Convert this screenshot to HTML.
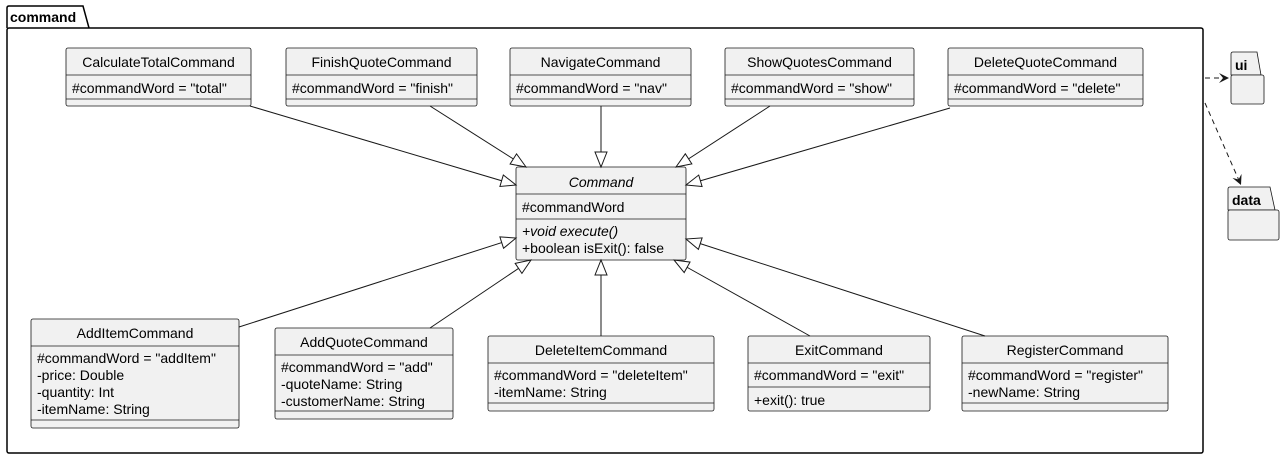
<!DOCTYPE html>
<html><head><meta charset="utf-8"><style>
html,body{margin:0;padding:0;background:#fff;}
svg{display:block;}
text{font-family:"Liberation Sans",sans-serif;font-size:14px;fill:#000;}
.b{fill:#f1f1f1;stroke:#181818;stroke-width:0.8;}
.l{stroke:#181818;stroke-width:0.8;}
.e{stroke:#181818;stroke-width:1;fill:none;}
</style></head><body>
<svg width="1285" height="458" viewBox="0 0 1285 458">
<defs>
<marker id="tri" markerUnits="userSpaceOnUse" markerWidth="20" markerHeight="20" refX="16" refY="7" orient="auto">
<path d="M1,1 L16,7 L1,13 Z" fill="#fff" stroke="#181818" stroke-width="1"/>
</marker>
<marker id="arr" markerUnits="userSpaceOnUse" markerWidth="14" markerHeight="14" refX="10" refY="5" orient="auto">
<path d="M0,0 L10,5 L0,10 L4,5 Z" fill="#181818"/>
</marker>
</defs>
<!-- package command -->
<path d="M7,28 L7,8 Q7,6 9,6 L83,6 L89,28" fill="none" stroke="#000" stroke-width="1.5"/>
<rect x="7" y="28" width="1196" height="425" rx="2" fill="none" stroke="#000" stroke-width="1.5"/>
<text x="10" y="22" style="font-weight:bold">command</text>

<!-- top classes -->
<g>
<rect class="b" x="66" y="48" width="185" height="58" rx="2"/><line class="l" x1="66" y1="75" x2="251" y2="75"/><line class="l" x1="66" y1="99" x2="251" y2="99"/>
<text x="158.5" y="67" text-anchor="middle">CalculateTotalCommand</text><text x="72" y="93">#commandWord = "total"</text>
<rect class="b" x="286" y="48" width="191" height="58" rx="2"/><line class="l" x1="286" y1="75" x2="477" y2="75"/><line class="l" x1="286" y1="99" x2="477" y2="99"/>
<text x="381.5" y="67" text-anchor="middle">FinishQuoteCommand</text><text x="292" y="93">#commandWord = "finish"</text>
<rect class="b" x="510" y="48" width="181" height="58" rx="2"/><line class="l" x1="510" y1="75" x2="691" y2="75"/><line class="l" x1="510" y1="99" x2="691" y2="99"/>
<text x="600.5" y="67" text-anchor="middle">NavigateCommand</text><text x="516" y="93">#commandWord = "nav"</text>
<rect class="b" x="725" y="48" width="189" height="58" rx="2"/><line class="l" x1="725" y1="75" x2="914" y2="75"/><line class="l" x1="725" y1="99" x2="914" y2="99"/>
<text x="819.5" y="67" text-anchor="middle">ShowQuotesCommand</text><text x="731" y="93">#commandWord = "show"</text>
<rect class="b" x="948" y="48" width="195" height="58" rx="2"/><line class="l" x1="948" y1="75" x2="1143" y2="75"/><line class="l" x1="948" y1="99" x2="1143" y2="99"/>
<text x="1045.5" y="67" text-anchor="middle">DeleteQuoteCommand</text><text x="954" y="93">#commandWord = "delete"</text>
</g>

<!-- Command -->
<rect class="b" x="516" y="167" width="170" height="93" rx="2"/><line class="l" x1="516" y1="194" x2="686" y2="194"/><line class="l" x1="516" y1="219" x2="686" y2="219"/>
<text x="601" y="187" text-anchor="middle" font-style="italic">Command</text>
<text x="522" y="212">#commandWord</text>
<text x="522" y="236" font-style="italic">+void execute()</text>
<text x="522" y="253">+boolean isExit(): false</text>

<!-- bottom classes -->
<rect class="b" x="31" y="319" width="208" height="109" rx="2"/><line class="l" x1="31" y1="346" x2="239" y2="346"/><line class="l" x1="31" y1="420" x2="239" y2="420"/>
<text x="135" y="338" text-anchor="middle">AddItemCommand</text>
<text x="37" y="363">#commandWord = "addItem"</text><text x="37" y="380">-price: Double</text><text x="37" y="397">-quantity: Int</text><text x="37" y="414">-itemName: String</text>

<rect class="b" x="275" y="328" width="178" height="91" rx="2"/><line class="l" x1="275" y1="355" x2="453" y2="355"/><line class="l" x1="275" y1="411" x2="453" y2="411"/>
<text x="364" y="347" text-anchor="middle">AddQuoteCommand</text>
<text x="281" y="372">#commandWord = "add"</text><text x="281" y="389">-quoteName: String</text><text x="281" y="406">-customerName: String</text>

<rect class="b" x="488" y="336" width="226" height="75" rx="2"/><line class="l" x1="488" y1="363" x2="714" y2="363"/><line class="l" x1="488" y1="403" x2="714" y2="403"/>
<text x="601" y="355" text-anchor="middle">DeleteItemCommand</text>
<text x="494" y="380">#commandWord = "deleteItem"</text><text x="494" y="397">-itemName: String</text>

<rect class="b" x="748" y="336" width="182" height="75" rx="2"/><line class="l" x1="748" y1="363" x2="930" y2="363"/><line class="l" x1="748" y1="387" x2="930" y2="387"/>
<text x="839" y="355" text-anchor="middle">ExitCommand</text>
<text x="754" y="380">#commandWord = "exit"</text><text x="754" y="405">+exit(): true</text>

<rect class="b" x="962" y="336" width="206" height="75" rx="2"/><line class="l" x1="962" y1="363" x2="1168" y2="363"/><line class="l" x1="962" y1="403" x2="1168" y2="403"/>
<text x="1065" y="355" text-anchor="middle">RegisterCommand</text>
<text x="968" y="380">#commandWord = "register"</text><text x="968" y="397">-newName: String</text>

<!-- inheritance edges -->
<line class="e" x1="250" y1="106" x2="516" y2="185" marker-end="url(#tri)"/>
<line class="e" x1="430" y1="106" x2="526" y2="167" marker-end="url(#tri)"/>
<line class="e" x1="601" y1="106" x2="601" y2="167" marker-end="url(#tri)"/>
<line class="e" x1="770" y1="106" x2="676" y2="167" marker-end="url(#tri)"/>
<line class="e" x1="950" y1="108" x2="686" y2="185" marker-end="url(#tri)"/>
<line class="e" x1="239" y1="327" x2="516" y2="238" marker-end="url(#tri)"/>
<line class="e" x1="430" y1="328" x2="531" y2="260" marker-end="url(#tri)"/>
<line class="e" x1="601" y1="336" x2="601" y2="260" marker-end="url(#tri)"/>
<line class="e" x1="810" y1="336" x2="674" y2="260" marker-end="url(#tri)"/>
<line class="e" x1="985" y1="336" x2="686" y2="239" marker-end="url(#tri)"/>

<!-- ui / data packages -->
<path class="b" d="M1231,75 L1231,54 Q1231,52 1233,52 L1257,52 L1261,75 Z"/>
<rect class="b" x="1231" y="75" width="33" height="29" rx="2"/>
<text x="1235" y="70" style="font-weight:bold">ui</text>
<path class="b" d="M1228,210 L1228,189 Q1228,187 1230,187 L1270,187 L1275,210 Z"/>
<rect class="b" x="1228" y="210" width="51" height="30" rx="2"/>
<text x="1232" y="205" style="font-weight:bold">data</text>

<line x1="1205" y1="78" x2="1229" y2="78" stroke="#181818" stroke-dasharray="5,4" marker-end="url(#arr)"/>
<line x1="1205" y1="103" x2="1241" y2="185" stroke="#181818" stroke-dasharray="5,4" marker-end="url(#arr)"/>
</svg>
</body></html>
